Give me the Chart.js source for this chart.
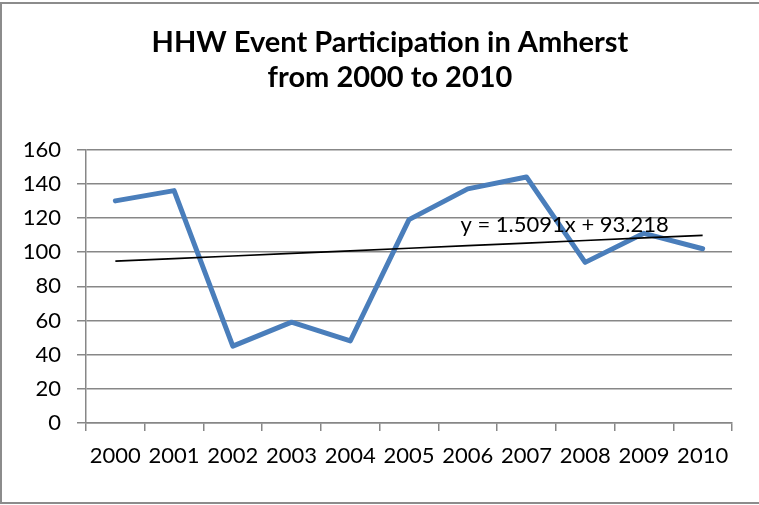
<!DOCTYPE html>
<html>
<head>
<meta charset="utf-8">
<script src="https://cdn.jsdelivr.net/npm/chart.js@4.4.0/dist/chart.umd.min.js"></script>
<style>
  html, body { margin: 0; padding: 0; background: #fff; overflow: hidden; }
  #frame {
    position: absolute; left: 0; top: 2px; width: 790px; height: 502px;
    border: 2px solid #8c8c8c; box-sizing: border-box;
  }
  #wrap { position: absolute; left: 0; top: 0; width: 759px; height: 505px; }
</style>
</head>
<body>
<div id="frame"></div>
<div id="wrap"><canvas id="myChart" width="759" height="505"></canvas></div>
<script>
// chart data
const years = ['2000', '2001', '2002', '2003', '2004', '2005', '2006', '2007', '2008', '2009', '2010'];
const participants = [130, 136, 45, 59, 48, 119, 137, 144, 94, 111, 102];
const yTicks = [0, 20, 40, 60, 80, 100, 120, 140, 160];
const titleLines = ['HHW Event Participation in Amherst', 'from 2000 to 2010'];

// linear trendline, coefficients as printed on the chart (x = 1..11)
const trendSlope = 1.5091;
const trendIntercept = 93.218;
const trendValues = years.map((y, idx) => trendSlope * (idx + 1) + trendIntercept);
const trendLabel = `y = ${trendSlope}x + ${trendIntercept}`;

const axisFont = { family: 'Lato, Carlito, Calibri, sans-serif', size: 22 };
const gridColor = '#878787';

// draws the equation text near the right end of the trendline
const trendText = {
    id: 'trendText',
    afterDatasetsDraw(chart) {
        const x = chart.scales.x.getPixelForValue(7.65);
        const y = chart.scales.y.getPixelForValue(116);
        const c = chart.ctx;
        c.save();
        c.font = `${axisFont.size}px ${axisFont.family}`;
        c.fillStyle = '#000';
        c.textAlign = 'center';
        c.textBaseline = 'middle';
        c.fillText(trendLabel, x, y);
        c.restore();
    }
};

const ctx = document.getElementById('myChart');

var chart = new Chart(ctx, {
    type: 'line',
    data: {
        labels: years,
        datasets: [{
            label: 'Linear trend',
            data: trendValues,
            borderColor: '#000',
            borderWidth: 1.7,
            pointRadius: 0,
            tension: 0
        }, {
            label: 'Participation',
            data: participants,
            borderColor: '#4a7ebb',
            borderWidth: 5,
            borderJoinStyle: 'round',
            borderCapStyle: 'round',
            pointRadius: 0,
            tension: 0
        }]
    },
    options: {
        responsive: false,
        animation: false,
        layout: { padding: { left: 21, right: 0, top: 0, bottom: 0 } },
        plugins: {
            legend: { display: false },
            tooltip: { enabled: false },
            title: {
                display: true,
                text: titleLines,
                color: '#000',
                font: { family: 'Lato, Carlito, Calibri, sans-serif', size: 29, weight: 'bold', lineHeight: 1.2 },
                padding: { top: 25, bottom: 55 }
            }
        },
        scales: {
            x: {
                offset: true,
                grid: {
                    offset: true,
                    drawOnChartArea: false,
                    drawTicks: true,
                    tickLength: 8,
                    color: gridColor,
                    lineWidth: 1.5
                },
                border: { display: true, color: gridColor, width: 1.5 },
                ticks: { color: '#000', font: axisFont, padding: 12, maxRotation: 0, autoSkip: false },
                afterFit(scale) { scale.height = 82; }
            },
            y: {
                min: 0,
                max: 160,
                afterBuildTicks(scale) { scale.ticks = yTicks.map(v => ({ value: v })); },
                grid: { color: gridColor, lineWidth: 1.5, tickLength: 9 },
                border: { display: true, color: gridColor, width: 1.5 },
                ticks: { color: '#000', font: axisFont, padding: 16, callback: (v) => String(v) },
                afterFit(scale) { scale.width = 65; }
            },
            // empty right axis, only reserves the blank margin on the right
            yRight: {
                position: 'right',
                grid: { display: false },
                border: { display: false },
                ticks: { display: false },
                afterFit(scale) { scale.width = 27; }
            }
        }
    },
    plugins: [trendText]
});
</script>
</body>
</html>
